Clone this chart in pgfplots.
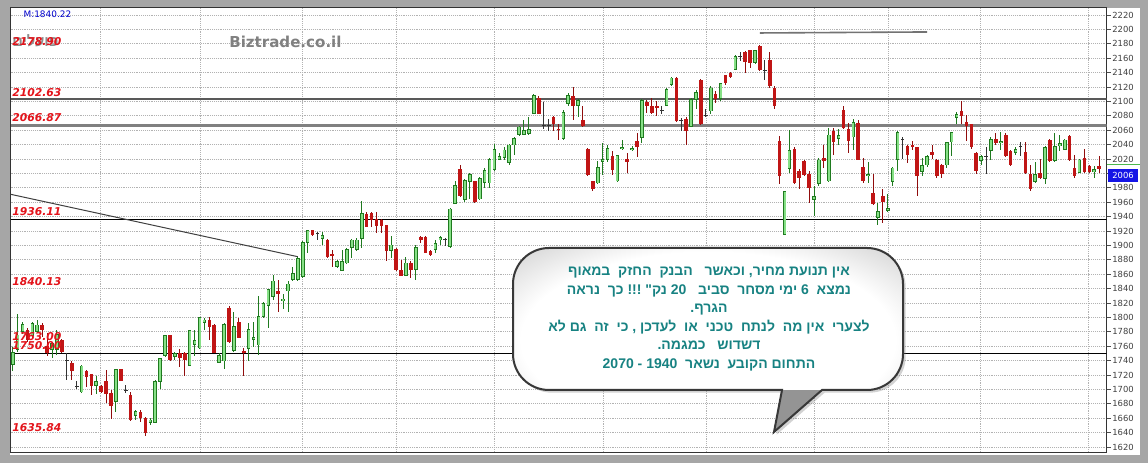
\documentclass[border=0pt]{standalone}
\usepackage{pgfplots}
\pgfplotsset{compat=1.18}
\usepackage{pgfplotstable}
\usepackage{fontspec}
\setmainfont{DejaVu Sans}
\newfontfamily\hebfont[Script=Hebrew]{Liberation Sans}
\TeXXeTstate=1
\usetikzlibrary{shadows}

\definecolor{upfill}{HTML}{86E086}
\definecolor{upline}{HTML}{1F7A1F}
\definecolor{dnfill}{HTML}{C01515}
\definecolor{dnline}{HTML}{900C0C}
\definecolor{dojiline}{HTML}{333333}
\definecolor{lvlred}{HTML}{E3141B}
\definecolor{notetext}{HTML}{178282}
\definecolor{winframe}{HTML}{A6A6A6}
\definecolor{pricebox}{HTML}{1414E6}

\pgfdeclareradialshading{bubble}{\pgfpointorigin}{%
  color(0bp)=(white); color(24bp)=(white); color(42bp)=(black!28);
  color(50bp)=(black!48); color(100bp)=(black!48)}

% one word of the note, set as its own box
\newcommand\w[1]{\mbox{#1}}

% daily candles: index, open, high, low, close
\pgfplotstableread{
x o h l c
0 1734 1759 1725 1752
1 1755 1805 1752 1776
2 1780 1793 1777 1791
3 1783 1785 1766 1769
4 1774 1793 1771 1792
5 1780 1796 1778 1790
6 1789 1792 1773 1782
7 1760 1778 1746 1751
8 1755 1766 1743 1764
9 1755 1782 1748 1777
10 1769 1770 1750 1752
11 1740 1750 1713 1740
12 1737 1740 1713 1725
13 1704 1711 1700 1704
14 1696 1734 1695 1733
15 1725 1727 1704 1717
16 1721 1722 1692 1705
17 1705 1718 1693 1712
18 1705 1706 1695 1697
19 1712 1727 1681 1694
20 1695 1699 1659 1677
21 1683 1729 1669 1728
22 1728 1729 1711 1712
23 1698 1706 1695 1698
24 1692 1697 1656 1657
25 1663 1671 1658 1670
26 1669 1672 1655 1660
27 1660 1662 1635.84 1640
28 1654 1660 1651 1658
29 1654 1713 1653 1712
30 1710 1744 1700 1743
31 1746 1776 1745 1775
32 1775 1776 1740 1741
33 1745 1752 1741 1750
34 1750 1756 1731 1743
35 1750 1752 1718 1741
36 1733 1783 1732 1782
37 1762 1783 1746 1769
38 1757 1801 1756 1800
39 1792 1799 1783 1797
40 1796 1801 1769 1786
41 1790 1791 1750 1751
42 1737 1750 1736 1748
43 1739 1792 1728 1791
44 1813 1816 1764 1766
45 1754 1808 1752 1788
46 1794 1799 1771 1772
47 1753 1757 1718 1751
48 1756 1792 1740 1784
49 1769 1793 1759 1773
50 1761 1830 1748 1802
51 1801 1822 1799 1820
52 1816 1840 1785 1839
53 1828 1859 1824 1851
54 1837 1852 1807 1832
55 1823 1833 1811 1826
56 1836 1851 1807 1847
57 1852 1870 1851 1861
58 1852 1884 1850 1882
59 1856 1906 1855 1905
60 1904 1922 1890 1921
61 1921 1922 1913 1915
62 1916 1918 1908 1916
63 1909 1918 1901 1914
64 1908 1909 1883 1884
65 1888 1894 1870 1886
66 1870 1880 1868 1878
67 1865 1893 1864 1878
68 1875 1896 1874 1895
69 1897 1909 1882 1908
70 1894 1910 1892 1908
71 1909 1961 1896 1945
72 1944 1946 1925 1926
73 1945 1947 1926 1935
74 1936 1946 1917 1927
75 1935 1936 1917 1927
76 1928 1929 1878 1892
77 1892 1913 1883 1901
78 1895 1896 1865 1866
79 1866 1880 1857 1858
80 1858 1884 1857 1876
81 1876 1878 1855 1866
82 1866 1900 1852 1898
83 1912 1913 1903 1907
84 1912 1913 1889 1890
85 1892 1893 1885 1886
86 1894 1908 1890 1903
87 1907 1913 1900 1911
88 1908 1910 1899 1908
89 1898 1952 1897 1951
90 1958 1989 1957 1984
91 2006 2012 1967 1968
92 1963 1992 1960 1991
93 1988 2001 1964 1999
94 1989 1990 1959 1960
95 1964 1995 1963 1994
96 1987 2008 1980 2005
97 1986 2021 1980 2020
98 2005 2041 2003 2034
99 2019 2028 2018 2024
100 2022 2037 2018 2033
101 2015 2041 2012 2040
102 2039 2051 2026 2049
103 2053 2066 2052 2065
104 2054 2074 2053 2060
105 2055 2078 2054 2062
106 2083 2110 2082 2109
107 2105 2107 2082 2083
108 2066 2099 2062 2066
109 2067 2075 2059 2067
110 2079 2080 2059 2068
111 2062 2068 2047 2060
112 2048 2088 2047 2085
113 2096 2112 2094 2109
114 2107 2120 2074 2094
115 2094 2103 2079 2102
116 2074 2094 2065 2066
117 2034 2035 1996 1998
118 1989 1990 1976 1978
119 1986 2017 1985 2009
120 2016 2042 1998 2020
121 2019 2040 2016 2035
122 2024 2031 1998 2005
123 1989 2026 1988 2025
124 2034 2047 2033 2037
125 2020 2029 2001 2016
126 2032 2038 2031 2035
127 2045 2056 2023 2037
128 2049 2103 2042 2102
129 2099 2102 2084 2094
130 2093 2105 2082 2084
131 2093 2100 2080 2091
132 2088 2093 2082 2088
133 2094 2119 2093 2117
134 2123 2134 2122 2133
135 2133 2134 2072 2073
136 2074 2077 2059 2074
137 2076 2078 2040 2059
138 2065 2104 2064 2103
139 2102 2116 2089 2113
140 2130 2131 2067 2068
141 2080 2089 2078 2080
142 2086 2121 2082 2119
143 2110 2114 2098 2103
144 2103 2126 2100 2125
145 2136 2137 2123 2125
146 2139 2141 2133 2134
147 2144 2164 2143 2163
148 2162 2168 2156 2162
149 2168 2170 2140 2154
150 2171 2172 2147 2154
151 2154 2172 2152 2171
152 2177 2178.9 2142 2144
153 2143 2157 2130 2143
154 2158 2168 2119 2121
155 2119 2122 2089 2094
156 2045 2052 1985 1996
157 1915 1976 1914 1975
158 2006 2060 2001 2032
159 2034 2036 1985 1987
160 2003 2006 1979 1993
161 2017 2019 1996 1998
162 1999 2003 1959 1980
163 1963 1982 1941 1968
164 1985 2022 1982 2019
165 2021 2040 2008 2017
166 1989 2063 1988 2054
167 2059 2063 2025 2043
168 2048 2061 2040 2053
169 2088 2094 2061 2063
170 2062 2070 2028 2045
171 2050 2076 2033 2071
172 2070 2074 2018 2019
173 2009 2022 1987 1989
174 1996 2016 1987 1999
175 1973 1999 1956 1957
176 1938 1959 1929 1948
177 1968 1979 1931 1960
178 1948 1972 1946 1952
179 1988 2009 1982 2008
180 2019 2059 2003 2057
181 2047 2050 2020 2047
182 2038 2040 2015 2026
183 2040 2045 2033 2036
184 2036 2037 1969 1997
185 2002 2022 1996 2011
186 2011 2026 2009 2024
187 2030 2039 2020 2026
188 2019 2020 1994 1997
189 2011 2013 1994 1999
190 2011 2044 2008 2043
191 2043 2058 2024 2057
192 2077 2085 2068 2082
193 2087 2100 2068 2080
194 2071 2081 2045 2066
195 2068 2069 2034 2036
196 2028 2030 1999 2003
197 2017 2026 2012 2024
198 2023 2037 1999 2023
199 2031 2050 2018 2048
200 2048 2056 2040 2042
201 2042 2057 2033 2045
202 2054 2056 2023 2024
203 2031 2033 2010 2011
204 2028 2036 2025 2034
205 2038 2043 2024 2038
206 2030 2043 1999 2000
207 1999 2012 1975 1978
208 1988 2016 1987 1999
209 2000 2020 1992 1993
210 1992 2038 1985 2037
211 2047 2048 2016 2017
212 2017 2056 2016 2038
213 2038 2054 2031 2042
214 2033 2048 2032 2047
215 2052 2053 2017 2018
216 2008 2025 1994 1997
217 2001 2020 2000 2019
218 2022 2034 2000 2002
219 2010 2011 2001 2002
220 2002 2010 1994 2006
221 2010 2024 2000 2006
}\candles

% vertical strokes from error bars; rows not belonging to a series get y=0
% and are dropped by the domain restriction
\pgfplotsset{
  vbar/.style 2 args={draw=none, mark=none, no markers, forget plot,
    restrict y to domain=1000:3000, unbounded coords=discard,
    error bars/.cd, y dir=both, y explicit, error mark=none,
    error bar style={draw=#1, line width=#2, line cap=butt, solid}},
}

\begin{document}
\begin{tikzpicture}[x=0.75pt,y=0.75pt]
\useasboundingbox (0,0) rectangle (1148,463);
% window
\fill[winframe] (0,0) rectangle (1148,463);
\fill[white] (10,8) rectangle (1139.5,455);

\begin{axis}[
  at={(7.875pt,7.5pt)}, anchor=south west,
  scale only axis, width=822pt, height=333.75pt,
  xmin=-0.45, xmax=222.5, ymin=1611.7, ymax=2229.7,
  axis line style={draw=black!80, line width=0.75pt},
  ytick={1620,1640,...,2220},
  ytick pos=right, yticklabel pos=right,
  tick align=outside, major tick length=3pt,
  ytick style={draw=black!70, line width=0.5pt},
  scaled y ticks=false,
  /pgf/number format/1000 sep={},
  /pgf/number format/assume math mode=true,
  yticklabel style={font=\fontsize{6.3}{7}\selectfont, text=black!75, inner sep=1.2pt},
  xtick={17.8,38.1,58.9,78,97.9,120.1,141.1,163,178.1,196.8,218.8},
  xticklabels={}, xtick style={draw=none},
  xmajorgrids, ymajorgrids,
  major grid style={densely dotted, draw=black!30, line width=0.5pt},
]
% support / resistance levels and trend lines
\addplot[draw=black!65, line width=1.5pt, forget plot] coordinates {(-0.45,2102.63) (222.5,2102.63)};
\addplot[draw=black!50, line width=2.2pt, forget plot] coordinates {(-0.45,2066.87) (222.5,2066.87)};
\addplot[draw=black, line width=0.75pt, forget plot] coordinates {(-0.45,1936.11) (222.5,1936.11)};
\addplot[draw=black, line width=0.75pt, forget plot] coordinates {(-0.45,1750) (222.5,1750)};
\addplot[draw=black!75, line width=0.75pt, forget plot] coordinates {(-0.45,1971) (58,1884.3)};
\addplot[draw=black!55, line width=1.2pt, forget plot] coordinates {(152,2195) (186,2196.4)};

% rising candles: wick, outline, body
\addplot[vbar={upline}{0.75pt}] table[x=x,
  y expr={\thisrow{c}>\thisrow{o} ? (\thisrow{h}+\thisrow{l})/2 : 0},
  y error expr={(\thisrow{h}-\thisrow{l})/2}] {\candles};
\addplot[vbar={upline}{2.7pt}] table[x=x,
  y expr={\thisrow{c}>\thisrow{o} ? (\thisrow{o}+\thisrow{c})/2 : 0},
  y error expr={max(abs(\thisrow{c}-\thisrow{o})/2,0.8)}] {\candles};
\addplot[vbar={upfill}{1.5pt}] table[x=x,
  y expr={\thisrow{c}>\thisrow{o}+2.5 ? (\thisrow{o}+\thisrow{c})/2 : 0},
  y error expr={max(abs(\thisrow{c}-\thisrow{o})/2-1.1,0)}] {\candles};

% falling candles: wick, body
\addplot[vbar={dnline}{0.75pt}] table[x=x,
  y expr={\thisrow{c}<\thisrow{o} ? (\thisrow{h}+\thisrow{l})/2 : 0},
  y error expr={(\thisrow{h}-\thisrow{l})/2}] {\candles};
\addplot[vbar={dnfill}{2.7pt}] table[x=x,
  y expr={\thisrow{c}<\thisrow{o} ? (\thisrow{o}+\thisrow{c})/2 : 0},
  y error expr={max(abs(\thisrow{o}-\thisrow{c})/2,0.8)}] {\candles};

% unchanged sessions: wick and a short horizontal tick
\addplot[vbar={dojiline}{0.75pt}] table[x=x,
  y expr={\thisrow{c}==\thisrow{o} ? (\thisrow{h}+\thisrow{l})/2 : 0},
  y error expr={(\thisrow{h}-\thisrow{l})/2}] {\candles};
\addplot[draw=none, mark=none, no markers, forget plot,
  restrict y to domain=1000:3000, unbounded coords=discard,
  error bars/.cd, x dir=both, x explicit, error mark=none,
  error bar style={draw=dojiline, line width=0.75pt, solid}]
  table[x=x, y expr={\thisrow{c}==\thisrow{o} ? \thisrow{o} : 0},
        x error expr={0.4}] {\candles};
\end{axis}

% header texts
\node[anchor=base west, inner sep=0, font=\fontsize{6.7}{8}\selectfont, text=blue!80!black] at (23.3,445.5) {M:1840.22};
\node[anchor=base west, inner sep=0, font=\bfseries\fontsize{11.3}{13}\selectfont, text=black!50] at (229,415) {Biztrade.co.il};
\node[anchor=base west, inner sep=0, font=\hebfont\bfseries\fontsize{11}{13}\selectfont, text=black!45] at (12,416) {\beginR פועלים\endR};

% level labels
\begin{scope}[every node/.style={anchor=base west, inner sep=0, text=lvlred, font=\bfseries\itshape\fontsize{8.1}{9}\selectfont}]
\node at (12,417.5) {2178.90};
\node at (12,366.3) {2102.63};
\node at (12,341.3) {2066.87};
\node at (12,247) {1936.11};
\node at (12,177) {1840.13};
\node at (12,122.3) {1763.00};
\node at (12,113) {1750.00};
\node at (12,31.3) {1635.84};
\end{scope}

% last price marker
\draw[green!60!black!70, line width=0.75pt] (1106.5,298) -- (1139.5,298);
\fill[pricebox] (1108,281) rectangle (1138,294);
\node[text=white, inner sep=0, font=\fontsize{6.3}{7}\selectfont] at (1123,287.5) {2006};

% comment bubble
\path[draw=black!78, line width=1.5pt, fill=black!42,
      drop shadow={shadow xshift=2pt, shadow yshift=-2pt, opacity=0.35},
      path picture={\shade[shading=bubble] (513,73) rectangle (903,215);}]
  (549,215) -- (867,215) arc[start angle=90,end angle=0,radius=36]
  -- (903,109) arc[start angle=0,end angle=-90,radius=36]
  -- (822,73) -- (774,31) -- (782,73) -- (549,73)
  arc[start angle=270,end angle=180,radius=36]
  -- (513,179) arc[start angle=180,end angle=90,radius=36] -- cycle;
\node[align=center, inner sep=0, text=notetext,
      font=\hebfont\bfseries\fontsize{10.5}{13.9}\selectfont] at (709,144) {%
\beginR\w{אין} \w{תנועת} \w{מחיר}\w{,}~\w{וכאשר}~~~\w{הבנק}~~\w{החזק}~~\w{במאוף}\endR\\
\beginR\w{נמצא}~~\w{6} \w{ימי} \w{מסחר}~~\w{סביב}~~~\w{20} \w{נק}\w{"} \w{!!!} \w{כך}~~\w{נראה}\endR\\
\beginR\w{הגרף}\w{.}\endR\\
\beginR\w{לצערי}~~\w{אין} \w{מה}~~\w{לנתח}~~\w{טכני}~~\w{או}~~\w{לעדכן} \w{,} \w{כי}~~\w{זה}~~\w{גם} \w{לא}\endR\\
\beginR\w{דשדוש}~~~\w{כמגמה}\w{.}\endR\\
\beginR\w{התחום} \w{הקובע}~~\w{נשאר}~~\w{1940} \w{-} \w{2070}\endR};
\end{tikzpicture}
\end{document}
